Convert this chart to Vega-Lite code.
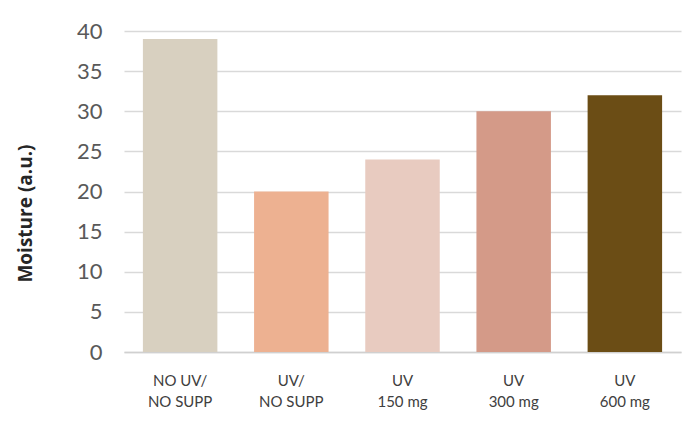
{
  "$schema": "https://vega.github.io/schema/vega-lite/v6.json",
  "autosize": {"type": "none"},
  "width": 557,
  "height": 321,
  "padding": {"left": 124, "top": 31, "right": 11, "bottom": 76},
  "background": "#ffffff",
  "config": {
    "view": {"stroke": null},
    "font": "Lato"
  },
  "data": {
    "values": [
      {"group": "NO UV/|NO SUPP", "moisture": 39, "color": "#d8d0c0"},
      {"group": "UV/|NO SUPP", "moisture": 20, "color": "#edb191"},
      {"group": "UV|150 mg", "moisture": 24, "color": "#e8cbc0"},
      {"group": "UV|300 mg", "moisture": 30, "color": "#d49a88"},
      {"group": "UV|600 mg", "moisture": 32, "color": "#6b4d15"}
    ]
  },
  "mark": {"type": "bar"},
  "encoding": {
    "x": {
      "field": "group",
      "type": "nominal",
      "sort": null,
      "scale": {"paddingInner": 0.33, "paddingOuter": 0.17},
      "axis": {
        "title": null,
        "labelAngle": 0,
        "labelExpr": "split(datum.label, '|')",
        "labelFontSize": 15,
        "labelColor": "#404040",
        "labelLineHeight": 21,
        "labelPadding": 21,
        "labelBaseline": "top",
        "ticks": false,
        "tickSize": 0,
        "domainColor": "#d0d0d0",
        "domainWidth": 1.5
      }
    },
    "y": {
      "field": "moisture",
      "type": "quantitative",
      "scale": {"domain": [0, 40]},
      "axis": {
        "title": "Moisture (a.u.)",
        "titleFont": "Open Sans",
        "titleFontSize": 19,
        "titleFontWeight": "bold",
        "titleColor": "#262626",
        "titleX": -89,
        "titleY": 182,
        "values": [0, 5, 10, 15, 20, 25, 30, 35, 40],
        "labelOverlap": false,
        "labelFontSize": 22,
        "labelColor": "#595959",
        "labelPadding": 22,
        "ticks": false,
        "tickSize": 0,
        "domain": false,
        "gridColor": "#d9d9d9",
        "gridWidth": 1.5
      }
    },
    "color": {"field": "color", "type": "nominal", "scale": null, "legend": null}
  }
}
